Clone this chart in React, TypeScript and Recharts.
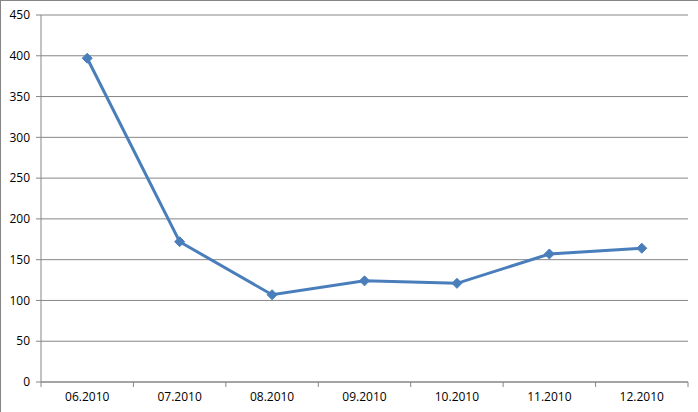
import { LineChart, Line, XAxis, YAxis, CartesianGrid } from 'recharts';

const months = ['06.2010', '07.2010', '08.2010', '09.2010', '10.2010', '11.2010', '12.2010'];
const values = [397, 172, 107, 124, 121, 157, 164];
const yTicks = [0, 50, 100, 150, 200, 250, 300, 350, 400, 450];

const data = months.map((month, i) => ({ month, value: values[i] }));

const W = 697;
const H = 411;
const LEFT = 40;
const RIGHT = 10;
const BAND = (W - LEFT - RIGHT) / months.length;
const FONT = '"Open Sans", sans-serif';

// category label at band centre, tick mark on band boundary
const MonthTick = (props: any) => {
  const { x, y, payload, index } = props;
  const left = x - BAND / 2;
  return (
    <g>
      <line x1={left} y1={y - 8} x2={left} y2={y - 3} stroke="#868686" />
      {index === months.length - 1 && (
        <line x1={left + BAND} y1={y - 8} x2={left + BAND} y2={y - 3} stroke="#868686" />
      )}
      <text x={x} y={y + 11} textAnchor="middle" fontSize={12} fontFamily={FONT} fill="#000">
        {payload.value}
      </text>
    </g>
  );
};

const Diamond = (props: any) => {
  const { cx, cy } = props;
  const r = 5;
  return (
    <polygon
      points={`${cx},${cy - r} ${cx + r},${cy} ${cx},${cy + r} ${cx - r},${cy}`}
      fill="#4a7ebb"
      stroke="#4a7ebb"
    />
  );
};

export default function App() {
  return (
    <div
      style={{
        position: 'absolute',
        left: 0,
        top: 0,
        width: 698,
        height: 412,
        borderTop: '1px solid #868686',
        borderLeft: '1px solid #868686',
        boxSizing: 'border-box',
        background: '#fff',
      }}
    >
      <LineChart width={W} height={H} data={data} margin={{ top: 14, right: RIGHT, bottom: 0, left: 0 }}>
        <CartesianGrid vertical={false} stroke="#868686" />
        <XAxis
          dataKey="month"
          scale="band"
          height={30}
          stroke="#868686"
          tickLine={false}
          tick={<MonthTick />}
          interval={0}
        />
        <YAxis
          width={LEFT}
          domain={[0, 450]}
          ticks={yTicks}
          interval={0}
          stroke="#868686"
          tickSize={5}
          tickMargin={6}
          tick={{ fontSize: 12, fontFamily: FONT, fill: '#000' }}
        />
        <Line
          dataKey="value"
          stroke="#4a7ebb"
          strokeWidth={3}
          dot={<Diamond />}
          activeDot={false}
          isAnimationActive={false}
        />
      </LineChart>
    </div>
  );
}
